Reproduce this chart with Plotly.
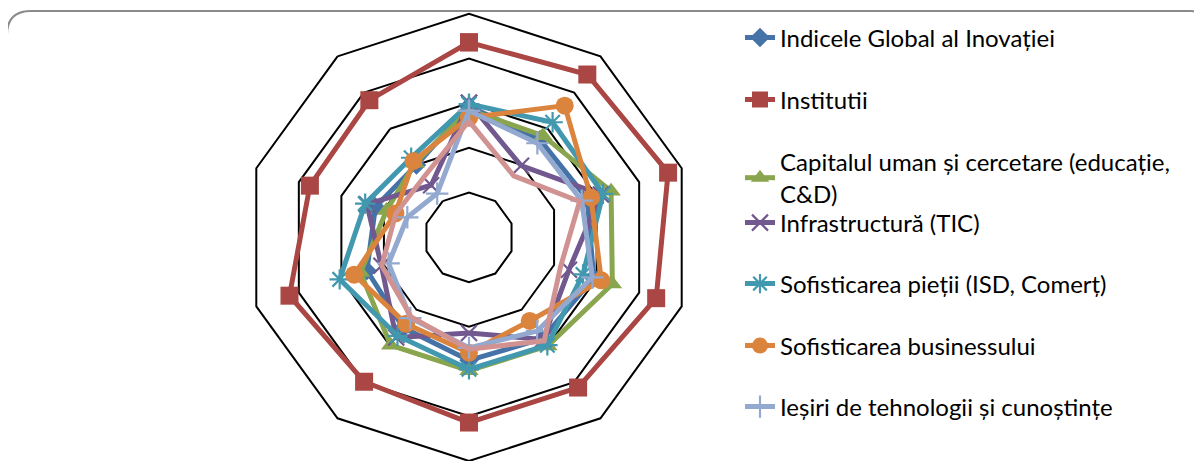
import plotly.graph_objects as go

# The page body adds an 8px margin, so the figure is drawn 8px in from the
# window's top-left corner; all reference pixel positions are shifted by OFF.
OFF = 8
W, H = 1202 - OFF, 461 - OFF

categories = ["1", "2", "3", "4", "5", "6", "7", "8", "9", "10"]

series_names = [
    "Indicele Global al Inovației",
    "Institutii",
    "Capitalul uman și cercetare (educație,<br>C&D)",
    "Infrastructură (TIC)",
    "Sofisticarea pieții (ISD, Comerț)",
    "Sofisticarea businessului",
    "Ieșiri de tehnologii și cunoștințe",
    "Ieșiri creative",
]

gii = [2.93, 2.70, 2.78, 2.93, 2.80, 2.75, 2.50, 2.40, 2.20, 2.00]
institutii = [4.36, 4.50, 4.68, 4.40, 4.15, 4.14, 3.99, 4.22, 3.74, 3.79]
capital_uman = [2.85, 2.81, 3.34, 3.37, 3.00, 2.98, 2.98, 2.55, 1.94, 2.05]
infrastructura = [3.01, 1.98, 3.10, 2.35, 2.82, 2.14, 2.77, 2.06, 2.40, 1.44]
sofist_piata = [2.98, 3.18, 3.15, 2.68, 2.98, 2.95, 2.72, 3.04, 2.44, 2.20]
sofist_business = [2.68, 3.64, 2.87, 3.11, 2.31, 2.58, 2.39, 2.70, 1.73, 2.11]
iesiri_tehn = [2.83, 2.60, 2.65, 2.90, 2.59, 2.47, 2.23, 1.89, 1.45, 1.21]
iesiri_creative = [2.60, 1.70, 2.60, 2.15, 2.86, 2.50, 2.20, 2.05, 1.72, 1.69]

values = [gii, institutii, capital_uman, infrastructura, sofist_piata,
          sofist_business, iesiri_tehn, iesiri_creative]

colors = ["#4572A7", "#AA4643", "#89A54E", "#71588F", "#4198AF",
          "#DB843D", "#93A9CF", "#D19392"]
symbols = ["diamond", "square", "triangle-up", "x-thin-open", "asterisk-open",
           "circle", "cross-thin-open", None]
msizes = [15, 18, 17, 16, 17, 18, 16, 0]

# legend item centre rows (reference px from top)
legend_rows = [38, 100, 178, 223, 284, 346, 407]


def px(x):
    return (x - OFF) / W


def py(y):
    return 1 - (y - OFF) / H


fig = go.Figure()
for i, (name, vals) in enumerate(zip(series_names, values)):
    r = list(vals) + [vals[0]]
    th = list(categories) + [categories[0]]
    sym = symbols[i]
    kw = {}
    if sym is None:
        mode = "lines"
    else:
        mode = "lines+markers"
        mk = dict(symbol=sym, size=msizes[i], color=colors[i])
        if sym.endswith("open"):
            mk["line"] = dict(width=2.2, color=colors[i])
        kw["marker"] = mk
    leg = "legend" if i == 0 else f"legend{i+1}"
    fig.add_trace(go.Scatterpolar(
        r=r, theta=th, mode=mode, name=name,
        line=dict(color=colors[i], width=5),
        showlegend=(i < 7), legend=leg if i < 7 else None,
        **kw))

# polar geometry in reference pixels
top_y = 13.7
bot_y = 461
cx = 469.0
rad = (bot_y - top_y) / 2
fig.update_layout(
    width=W, height=H,
    margin=dict(l=0, r=0, t=0, b=0),
    paper_bgcolor="white", plot_bgcolor="white",
    font=dict(family="Lato, Calibri, sans-serif", size=24, color="#000000"),
    polar=dict(
        domain=dict(x=[px(cx - rad), px(cx + rad)], y=[0, py(top_y)]),
        bgcolor="rgba(0,0,0,0)",
        gridshape="linear",
        radialaxis=dict(range=[0, 5], dtick=1, showline=False, showticklabels=False,
                        ticks="", gridcolor="#000000", gridwidth=2),
        angularaxis=dict(direction="clockwise", rotation=90, showgrid=False,
                         showticklabels=False, ticks="", linecolor="#000000",
                         linewidth=2, type="category"),
    ),
)

for i in range(7):
    key = "legend" if i == 0 else f"legend{i+1}"
    fig.update_layout({key: dict(
        x=px(740), xanchor="left",
        y=py(legend_rows[i]), yanchor="middle",
        bgcolor="rgba(0,0,0,0)", borderwidth=0,
        font=dict(family="Lato, Calibri, sans-serif", size=24, color="#000000"),
    )})

# rounded frame
L, T, R, B, rr = 7, 11, 1214, 490, 24
path = (f"M{px(L)},{py(B)} L{px(L)},{py(T + rr)} Q{px(L)},{py(T)} {px(L + rr)},{py(T)} "
        f"L{px(R - rr)},{py(T)} Q{px(R)},{py(T)} {px(R)},{py(T + rr)} L{px(R)},{py(B)}")
fig.add_shape(type="path", path=path, xref="paper", yref="paper",
              line=dict(color="#8A8A8A", width=2), layer="below")

fig.write_html("out.html")
